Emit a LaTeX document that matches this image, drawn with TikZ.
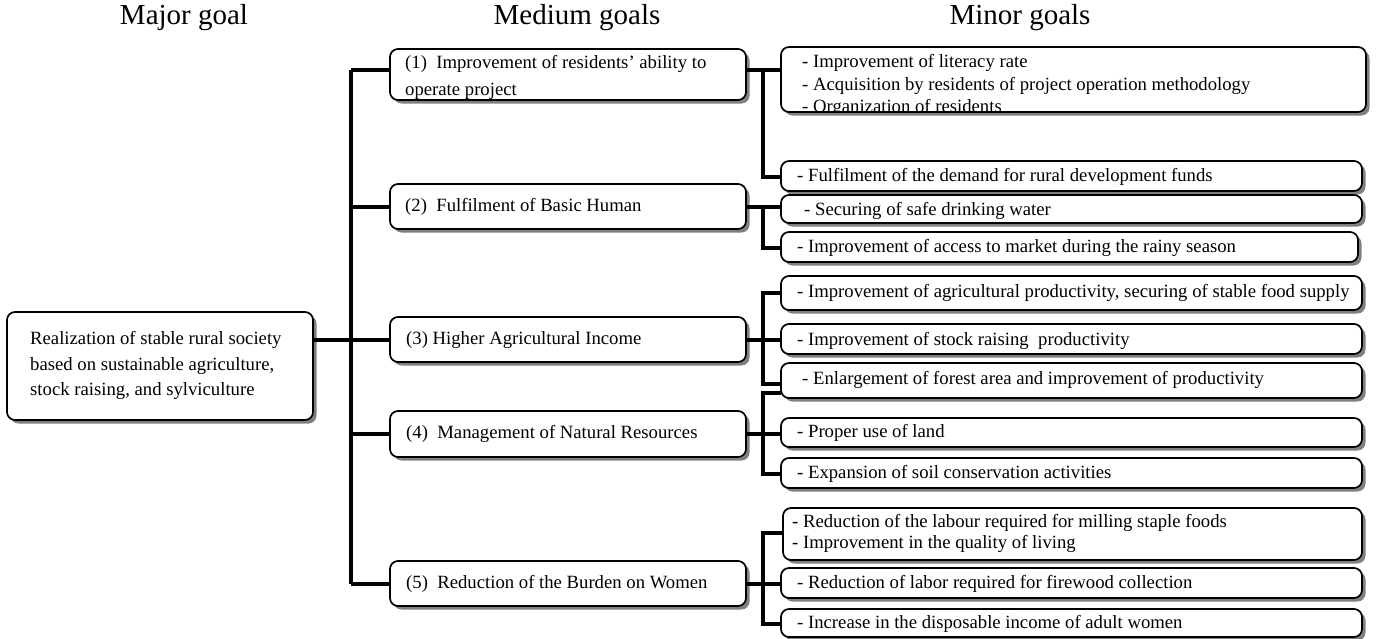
\documentclass[tikz,border=0pt]{standalone}
\usepackage{fontspec}
\setmainfont{Liberation Serif}
\usetikzlibrary{shadows}
\newcommand\mkbox[5]{\node[gbox, minimum width={(#4-#2)*1pt}, minimum height={(#5-#3)*1pt}] (#1) at ({(#2+#4)/2},{(#3+#5)/2}) {};}
\begin{document}
\begin{tikzpicture}[x=1pt,y=-1pt,
  gbox/.style={draw, line width=1.7pt, fill=white, rounded corners=8pt, inner sep=0pt, outer sep=0pt,
    drop shadow={shadow xshift=3.5pt, shadow yshift=-3.5pt, fill=black!50, opacity=1}},
  txt/.style={inner sep=0pt, anchor=west, text height=12.5pt, text depth=4pt, font=\fontsize{18.7}{22}\selectfont},
  ttl/.style={inner sep=0pt, font=\fontsize{29}{34}\selectfont},
  conn/.style={line width=3.2pt}]
\useasboundingbox (0,0) rectangle (1377,638);
% titles
\node[ttl] (t1) at (184,18) {Major goal};
\node[ttl] (t2) at (577,18) {Medium goals};
\node[ttl] (t3) at (1020,18) {Minor goals};
% major
\mkbox{maj}{7}{312}{313}{420}
\node[txt] (majt1) at (30,340) {Realization of stable rural society};
\node[txt] (majt2) at (30,366) {based on sustainable agriculture,};
\node[txt] (majt3) at (30,391) {stock raising, and sylviculture};
% medium
\mkbox{m1}{390}{49}{746}{100}
\mkbox{m2}{390}{184}{746}{229}
\mkbox{m3}{390}{317}{746}{362}
\mkbox{m4}{390}{411}{746}{457}
\mkbox{m5}{390}{561}{746}{606}
\begin{scope}
\clip[rounded corners=8pt] (391,50) rectangle (745,99);
\node[txt] (m1t1) at (405,64) {(1)\ \ Improvement of residents’ ability to};
\node[txt] (m1t2) at (405,91) {operate project};
\end{scope}
\node[txt] (m2t) at (405,207) {(2)\ \ Fulfilment of Basic Human};
\node[txt] (m3t) at (406,340) {(3) Higher Agricultural Income};
\node[txt] (m4t) at (406,434) {(4)\ \ Management of Natural Resources};
\node[txt] (m5t) at (406,584) {(5)\ \ Reduction of the Burden on Women};
% minor
\mkbox{A}{781}{47}{1366}{112}
\mkbox{B}{781}{161}{1362}{191}
\mkbox{C}{781}{195}{1362}{223}
\mkbox{D}{781}{232}{1358}{262}
\mkbox{E}{781}{276}{1362}{310}
\mkbox{F}{781}{324}{1362}{354}
\mkbox{G}{781}{363}{1362}{398}
\mkbox{H}{781}{418}{1362}{447}
\mkbox{I}{781}{458}{1362}{488}
\mkbox{J}{783}{508}{1362}{560}
\mkbox{K}{781}{568}{1362}{598}
\mkbox{L}{781}{609}{1362}{637}
\begin{scope}
\clip[rounded corners=8pt] (782,48) rectangle (1365,111);
\node[txt] (At1) at (802,63) {- Improvement of literacy rate};
\node[txt] (At2) at (802,86) {- Acquisition by residents of project operation methodology};
\node[txt] (At3) at (802,108) {- Organization of residents};
\end{scope}
\node[txt] (Bt) at (797,177) {- Fulfilment of the demand for rural development funds};
\node[txt] (Ct) at (804,211) {- Securing of safe drinking water};
\node[txt] (Dt) at (797,248) {- Improvement of access to market during the rainy season};
\node[txt] (Et) at (797,293) {- Improvement of agricultural productivity, securing of stable food supply};
\node[txt] (Ft) at (797,341) {- Improvement of stock raising\ \ productivity};
\node[txt] (Gt) at (802,380) {- Enlargement of forest area and improvement of productivity};
\node[txt] (Ht) at (797,433) {- Proper use of land};
\node[txt] (It) at (797,474) {- Expansion of soil conservation activities};
\node[txt] (Jt1) at (792,523) {- Reduction of the labour required for milling staple foods};
\node[txt] (Jt2) at (792,544) {- Improvement in the quality of living};
\node[txt] (Kt) at (797,584) {- Reduction of labor required for firewood collection};
\node[txt] (Lt) at (797,624) {- Increase in the disposable income of adult women};
% trunk
\coordinate (tr) at (351,0);
\coordinate (trtop) at (351,70);
\draw[conn] (trtop) -- (tr |- m5t);
\draw[conn] (trtop) -- (m1.west |- trtop);
\draw[conn] (tr |- m2t) -- (m2.west |- m2t);
\draw[conn] (maj.east |- m3t) -- (m3.west |- m3t);
\draw[conn] (tr |- m4t) -- (m4.west |- m4t);
\draw[conn] (tr |- m5t) -- (m5.west |- m5t);
% right groups
\coordinate (rv) at (763,0);
% group 1
\draw[conn] (m1.east |- trtop) -- (A.west |- trtop);
\draw[conn] (rv |- trtop) -- (rv |- Bt) -- (B.west |- Bt);
% group 2
\draw[conn] (m2.east |- m2t) -- (C.west |- m2t);
\draw[conn] (rv |- m2t) -- (rv |- Dt) -- (D.west |- Dt);
% group 3
\draw[conn] (E.west |- Et) -- (rv |- Et) -- (rv |- 0,384) -- (G.west |- 0,384);
\draw[conn] (m3.east |- m3t) -- (F.west |- m3t);
% group 4
\draw[conn] (G.west |- 0,393) -- (rv |- 0,393) -- (rv |- It) -- (I.west |- It);
\draw[conn] (m4.east |- m4t) -- (H.west |- m4t);
% group 5
\draw[conn] (J.west |- 0,533) -- (rv |- 0,533) -- (rv |- Lt) -- (L.west |- Lt);
\draw[conn] (m5.east |- m5t) -- (K.west |- m5t);
\end{tikzpicture}
\end{document}
